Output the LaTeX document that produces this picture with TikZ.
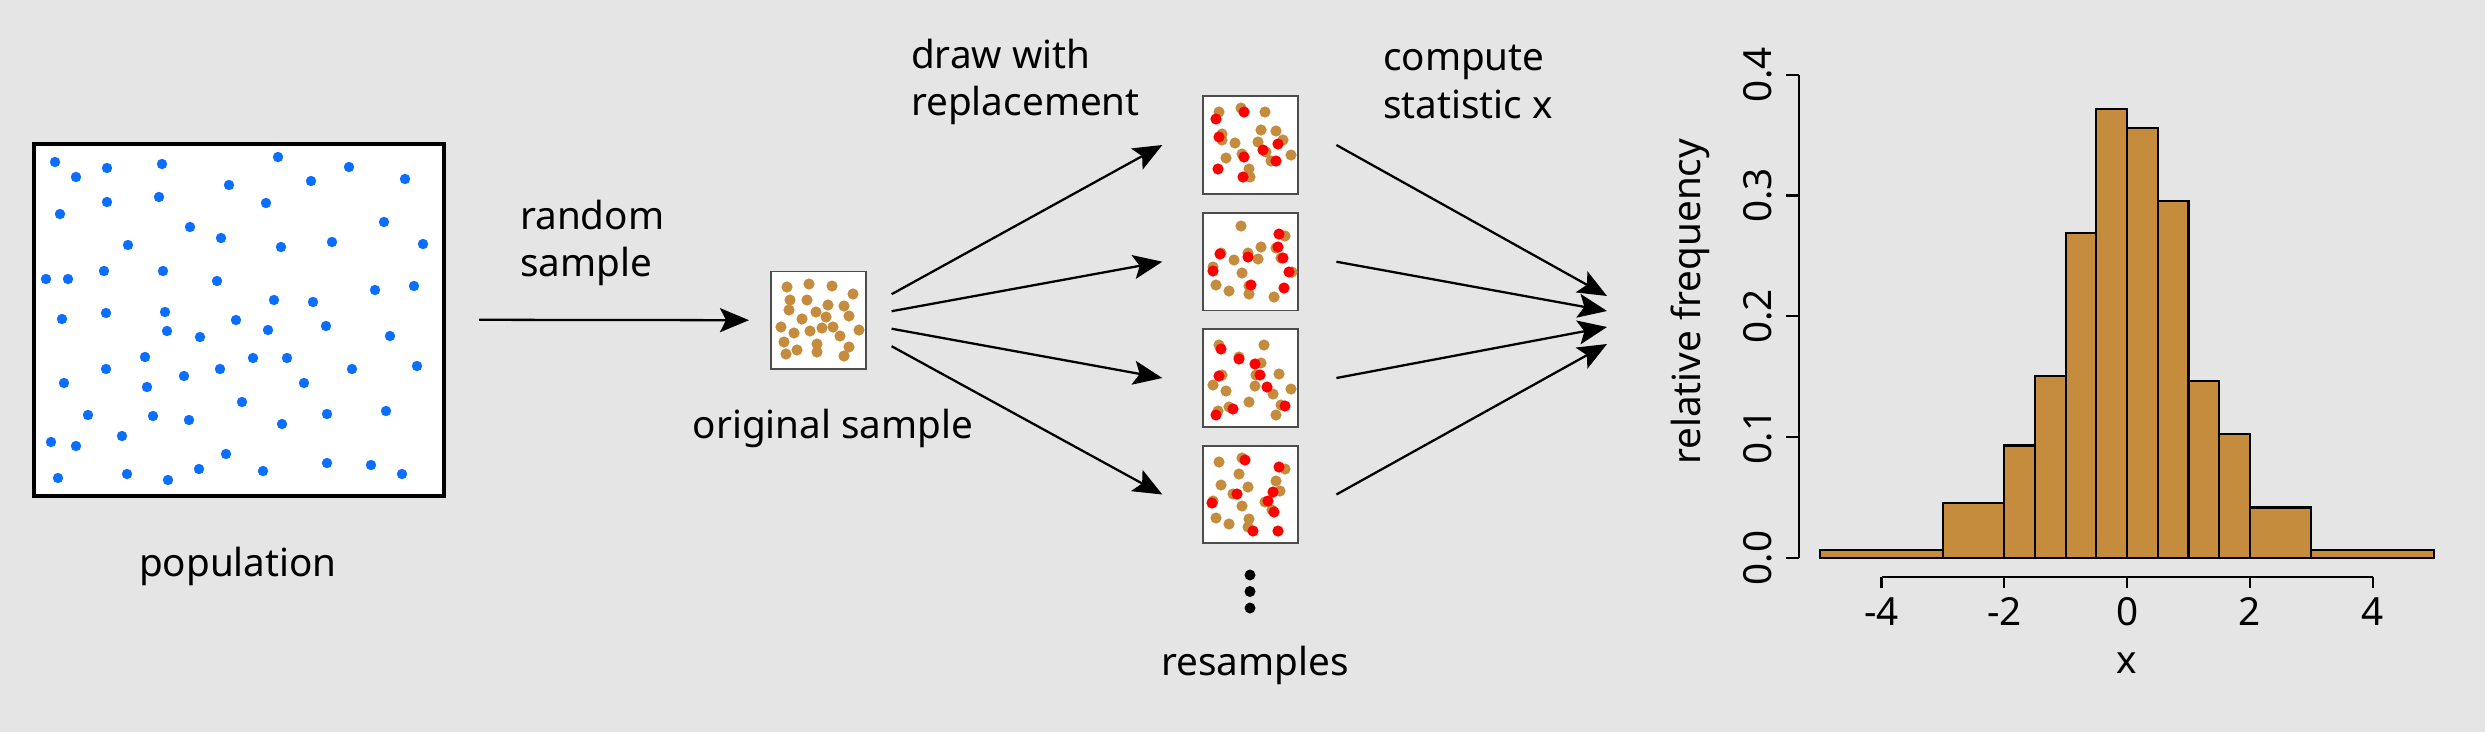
\documentclass[tikz,border=0pt]{standalone}
\usepackage{fontspec}
\setmainfont{Noto Sans}
\usepackage{tikz}
\usetikzlibrary{shapes,positioning,calc}
\usetikzlibrary{arrows.meta}
\definecolor{sfondo}{HTML}{E5E5E5}
\definecolor{popblue}{HTML}{0A6EFF}
\definecolor{sampcol}{HTML}{C68C3E}
\definecolor{boxgray}{HTML}{4D4D4D}
\tikzstyle{popbox} = [rectangle, minimum width=41mm, minimum height=35.2mm, draw=black, line width=1.3pt, fill=white]
\tikzstyle{sampbox} = [rectangle, minimum width=9.5mm, minimum height=9.75mm, inner sep=0pt, draw=boxgray, line width=0.45pt, fill=white]
\tikzstyle{txt} = [inner sep=0pt, font=\fontsize{11}{13.6}\selectfont]
\tikzstyle{arrow} = [line width=0.65pt, -{Stealth[length=2.9mm,width=2.4mm,inset=0.6mm]}]
\tikzstyle{bar} = [draw=black, fill=sampcol, line width=0.6pt]
\tikzstyle{axis} = [line width=0.6pt]

\begin{document}
\begin{tikzpicture}[x=0.1mm, y=-0.1mm]
\useasboundingbox (0,0) rectangle (2485,732);
\fill[sfondo] (0,0) rectangle (2485,732);

% population
\node (pop) at (238.8,319.8) [popbox] {};
\foreach \x/\y in {55/162, 76/177, 107/168, 162/164, 278/157, 349/167, 311/181, 405/179, 229/185,
  60/214, 107/202, 159/197, 266/203, 190/227, 221/238, 128/245, 281/247, 332/242, 384/222, 423/244,
  46/279, 68/279, 104/271, 163/271, 217/281, 375/290, 414/286, 274/300, 313/302,
  62/319, 106/313, 165/312, 236/320, 167/331, 200/337, 268/330, 326/326, 390/336,
  145/357, 253/358, 287/358, 106/369, 220/369, 352/369, 417/366,
  64/383, 147/387, 184/376, 304/383, 242/402,
  88/415, 153/416, 189/420, 282/424, 327/414, 386/411, 51/442, 76/446, 122/436, 226/454,
  58/478, 127/474, 168/480, 199/469, 263/471, 327/463, 371/465, 402/474}
  \fill[popblue] (\x,\y) circle[radius=0.52mm];
\node (poplab) at (238,566) [txt] {population};

% original sample
\node (orig) at (818.3,320.2) [sampbox] {};
\foreach \x/\y in {787/287, 809/284, 832/286, 853/294, 790/300, 807/300, 789/310, 828/305, 844/306,
  816/312, 826/317, 849/316, 802/319, 781/327, 794/333, 810/331, 822/328, 833/327, 840/336,
  859/330, 784/342, 817/344, 817/352, 797/350, 786/354, 849/347, 844/356}
  \fill[sampcol] (\x,\y) circle[radius=0.56mm];
\node (origlab) at (833,428.5) [txt] {original sample};
\node (randlab) at (519.5,243) [txt, align=left, anchor=west] {random\\sample};
\draw[arrow] ($(pop.east)+(33,0)$) -- ($(orig.west)+(-21,0)$);

% resamples
\node (rs1) at (1250.6,145) [sampbox] {};
\node (rs2) at (1250.6,261.7) [sampbox] {};
\node (rs3) at (1250.6,378) [sampbox] {};
\node (rs4) at (1250.6,494.5) [sampbox] {};
\foreach \x/\y in {1219/112, 1241/108, 1265/112, 1261/130, 1276/131, 1283/140, 1258/142, 1235/143,
  1222/134, 1222/140, 1266/152, 1271/161, 1291/155, 1226/158, 1242/154, 1249/169, 1250/177,
  1241/226, 1285/236, 1261/247, 1276/248, 1248/253, 1234/260, 1258/259, 1221/253, 1281/258,
  1213/267, 1242/273, 1292/272, 1216/285, 1229/291, 1249/294, 1274/297, 1249/286,
  1219/345, 1264/345, 1239/357, 1261/363, 1256/375, 1279/374, 1222/375, 1213/385, 1255/386,
  1226/391, 1273/394, 1291/389, 1249/402, 1229/407, 1218/411, 1281/405, 1276/415,
  1219/462, 1242/458, 1285/469, 1239/474, 1276/481, 1221/485, 1248/487, 1233/494, 1280/491,
  1265/502, 1213/501, 1242/506, 1272/510, 1216/518, 1229/524, 1249/519, 1248/527}
  \fill[sampcol] (\x,\y) circle[radius=0.56mm];
\foreach \x/\y in {1216/119, 1244/112, 1219/137, 1278/144, 1263/150, 1244/157, 1276/161, 1218/169, 1243/177,
  1279/234, 1278/247, 1220/254, 1248/257, 1283/258, 1213/271, 1289/272, 1251/285, 1284/288,
  1221/349, 1239/359, 1255/364, 1219/376, 1260/375, 1267/387, 1285/406, 1233/409, 1216/415,
  1245/460, 1279/467, 1273/492, 1237/494, 1268/501, 1212/503, 1274/512, 1253/531, 1278/531}
  \fill[red] (\x,\y) circle[radius=0.56mm];
\foreach \y in {575,591.5,608}
  \fill[black] (1250,\y) circle[radius=0.55mm];
\node (reslab) at (1255,665) [txt] {resamples};
\node (drawlab) at (910.5,82) [txt, align=left, anchor=west] {draw with\\replacement};
\node (complab) at (1382.4,82) [txt, align=left, anchor=west] {compute\\statistic x};

\draw[arrow] ($(orig.east)+(25,-26)$) -- ($(rs1.west)+(-40,0)$);
\draw[arrow] ($(orig.east)+(25,-9)$) -- ($(rs2.west)+(-40,0)$);
\draw[arrow] ($(orig.east)+(25,8.5)$) -- ($(rs3.west)+(-40,0)$);
\draw[arrow] ($(orig.east)+(25,26)$) -- ($(rs4.west)+(-40,0)$);

% histogram
\coordinate (stat) at (1607,320);
\draw[arrow] ($(rs1.east)+(37.5,0)$) -- ($(stat)+(0,-24)$);
\draw[arrow] ($(rs2.east)+(37.5,0)$) -- ($(stat)+(0,-9)$);
\draw[arrow] ($(rs3.east)+(37.5,0)$) -- ($(stat)+(0,7)$);
\draw[arrow] ($(rs4.east)+(37.5,0)$) -- ($(stat)+(0,24)$);

\coordinate (orig0) at (2127.1,557.9);
\begin{scope}[shift={(orig0)}, x=6.14mm, y=120.8mm]
  \foreach \a/\b/\h in {-5/-3/0.0066, -3/-2/0.0456, -2/-1.5/0.0931, -1.5/-1/0.1507, -1/-0.5/0.2686,
    -0.5/0/0.3718, 0/0.5/0.3559, 0.5/1/0.2953, 1/1.5/0.1465, 1.5/2/0.1024, 2/3/0.0417, 3/5/0.0066}
    \draw[bar] (\a,0) rectangle (\b,\h);
  \draw[axis] (-5.35,0) -- (-5.35,0.4);
  \foreach \i in {0,...,4} {
    \draw[axis] (-5.35,{\i/10}) -- (-5.55,{\i/10});
    \node (ytick\i) at (-6.01,{\i/10}) [txt, rotate=90] {0.\i};
  }
  \draw[axis] (-4,-0.0155) -- (4,-0.0155);
  \foreach \v [count=\i] in {-4,-2,0,2,4} {
    \draw[axis] (\v,-0.0155) -- (\v,-0.0251);
    \node (xtick\i) at (\v,-0.0446) [txt] {\v};
  }
  \node (xlab) at (0,-0.087) [txt] {x};
  \node (ylab) at (-7.11,0.212) [txt, rotate=90] {relative frequency};
\end{scope}
\end{tikzpicture}
\end{document}
